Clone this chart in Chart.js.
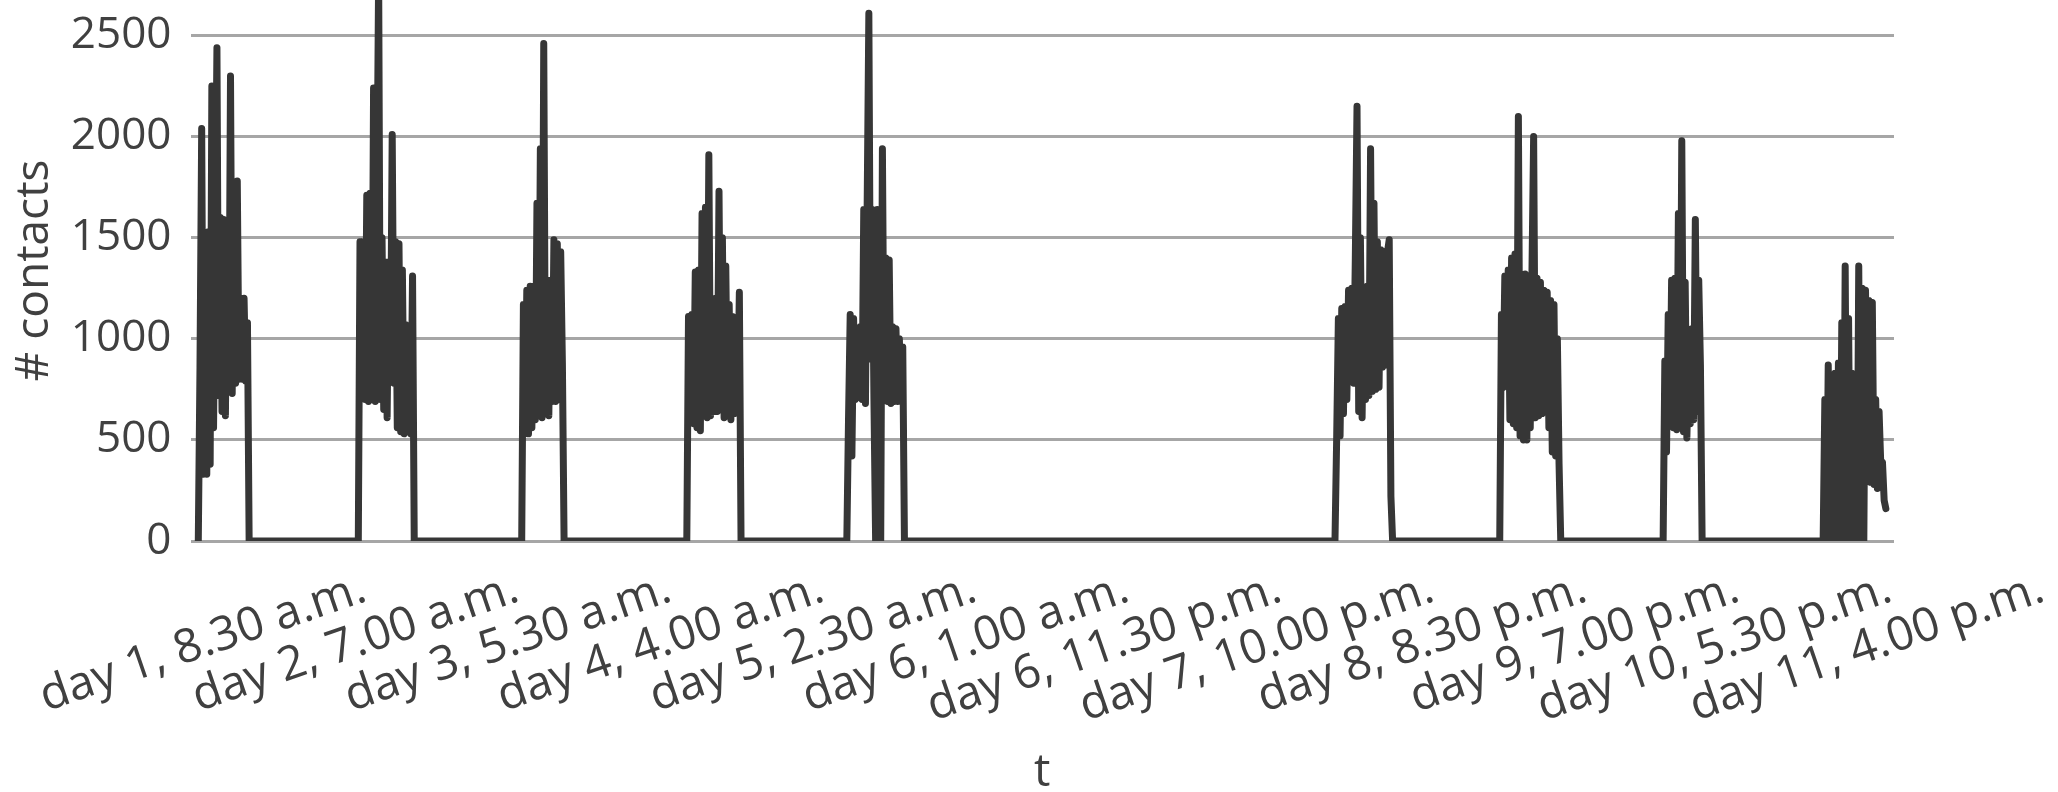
<!DOCTYPE html>
<html>
<head>
<meta charset="utf-8">
<script src="https://cdn.jsdelivr.net/npm/chart.js@4.4.0/dist/chart.umd.min.js"></script>
<style>
  html, body { margin: 0; padding: 0; background: #fff; }
</style>
</head>
<body>
<canvas id="contactsChart" width="2058" height="792"></canvas>
<script>
// x axis is hours counted from midnight before day 1
const tickHours = [8.5, 31, 53.5, 76, 98.5, 121, 143.5, 166, 188.5, 211, 233.5, 256];
const tickLabels = [
  "day 1, 8.30 a.m.", "day 2, 7.00 a.m.", "day 3, 5.30 a.m.", "day 4, 4.00 a.m.",
  "day 5, 2.30 a.m.", "day 6, 1.00 a.m.", "day 6, 11.30 p.m.", "day 7, 10.00 p.m.",
  "day 8, 8.30 p.m.", "day 9, 7.00 p.m.", "day 10, 5.30 p.m.", "day 11, 4.00 p.m."
];
const yTicks = [0, 500, 1000, 1500, 2000, 2500];

// each active period: start hour, then one reading every 15 minutes
const stepHours = 0.25;
const blockStart = [8.5, 32.1, 56.2, 80.55, 104.15, 176.15, 200.45, 224.55, 248.15];

const day1 = [0, 860, 2040, 330, 1300, 330, 1530, 380, 2250, 560, 1500, 2440, 720, 1600, 640, 1590,
  620, 1500, 740, 2300, 730, 1600, 780, 1780, 800, 1200, 800, 1200, 790, 1080, 0];
const day2 = [0, 1480, 720, 1480, 700, 1710, 690, 1720, 700, 2240, 690, 1700, 2800, 700, 1500, 650,
  1380, 610, 1380, 830, 2010, 780, 1480, 560, 1470, 540, 1340, 530, 1070, 540, 1000, 530, 1310, 0];
const day3 = [0, 1170, 540, 1240, 530, 1260, 560, 1260, 600, 1670, 620, 1940, 610, 2460, 700, 1290,
  620, 1290, 690, 1490, 690, 1470, 700, 1430, 880, 0];
const day4 = [0, 1110, 760, 1120, 580, 1330, 560, 1340, 545, 1620, 620, 1650, 610, 1910, 620, 1110,
  640, 1200, 640, 1730, 650, 1500, 610, 1360, 620, 1170, 600, 1110, 630, 1100, 640, 1230, 0];
const day5 = [0, 600, 1120, 420, 1100, 700, 1050, 720, 1060, 700, 1640, 680, 1650, 2610, 900, 1640,
  700, 0, 1640, 800, 0, 1940, 700, 1400, 690, 1390, 680, 1060, 690, 1050, 690, 1000, 700, 960, 0];
const day8 = [0, 510, 1100, 520, 1150, 630, 1160, 700, 1240, 790, 1250, 780, 1400, 2150, 640, 1500,
  610, 1250, 700, 1260, 720, 1940, 740, 1670, 750, 1480, 760, 1440, 860, 1430, 870, 1430, 1490, 220, 0];
const day9 = [0, 1120, 760, 1310, 770, 1340, 600, 1400, 580, 1420, 560, 2100, 520, 1310, 500, 1320,
  500, 1300, 560, 1320, 2000, 610, 1300, 620, 1280, 630, 1240, 640, 1230, 560, 1190, 440, 1170, 420,
  1000, 380, 0];
const day10 = [0, 890, 440, 1120, 580, 1290, 560, 1300, 550, 1620, 560, 1980, 540, 1280, 510, 860,
  580, 1050, 600, 1590, 640, 1290, 870, 0];
const day11 = [0, 700, 0, 870, 0, 820, 0, 830, 0, 880, 0, 1080, 0, 1360, 0, 1100, 0, 830, 0, 820,
  0, 1360, 0, 1250, 0, 1240, 300, 1190, 290, 1180, 280, 700, 260, 640, 380, 390, 200, 160];

const blocks = [day1, day2, day3, day4, day5, day8, day9, day10, day11];

const points = [];
blocks.forEach((vals, b) => {
  vals.forEach((v, i) => {
    points.push({ x: blockStart[b] + i * stepHours, y: v });
  });
});

const textColor = '#404040';
const fontFamily = '"Open Sans", "Noto Sans", sans-serif';

const ctx = document.getElementById('contactsChart');
new Chart(ctx, {
  type: 'line',
  data: {
    datasets: [{
      label: '# contacts',
      data: points,
      borderColor: '#363636',
      borderWidth: 7,
      pointRadius: 0,
      tension: 0,
      fill: false,
      borderJoinStyle: 'round',
      borderCapStyle: 'round'
    }]
  },
  options: {
    responsive: false,
    animation: false,
    layout: { padding: { left: 0, right: 164, top: 0, bottom: 0 } },
    plugins: {
      legend: { display: false },
      tooltip: { enabled: false }
    },
    scales: {
      x: {
        type: 'linear',
        min: 7.35,
        max: 258.6,
        afterBuildTicks: s => { s.ticks = tickHours.map(v => ({ value: v })); },
        afterFit: s => { s.height = 251; s.paddingLeft = 0; s.paddingRight = 0; },
        grid: { display: false, drawTicks: false },
        border: { display: false },
        ticks: {
          autoSkip: false,
          minRotation: 19,
          maxRotation: 19,
          padding: 20,
          labelOffset: 166,
          color: textColor,
          font: { family: fontFamily, size: 47 },
          callback: (v, i) => tickLabels[i]
        },
        title: {
          display: true,
          text: 't',
          color: textColor,
          font: { family: fontFamily, size: 46, lineHeight: 1 },
          padding: { top: 0, bottom: -4 }
        }
      },
      y: {
        min: 0,
        max: 2675.6,
        afterBuildTicks: s => { s.ticks = yTicks.map(v => ({ value: v })); },
        afterFit: s => { s.width = 190.5; s.paddingTop = 0; s.paddingBottom = 0; },
        grid: { color: '#a6a6a6', lineWidth: 3, drawTicks: false },
        border: { display: false },
        ticks: {
          padding: 19,
          color: textColor,
          font: { family: fontFamily, size: 44 },
          callback: v => String(v)
        },
        title: {
          display: true,
          text: '# contacts',
          color: textColor,
          font: { family: fontFamily, size: 46, lineHeight: 1 },
          padding: { top: 12, bottom: 0 }
        }
      }
    }
  }
});
</script>
</body>
</html>
